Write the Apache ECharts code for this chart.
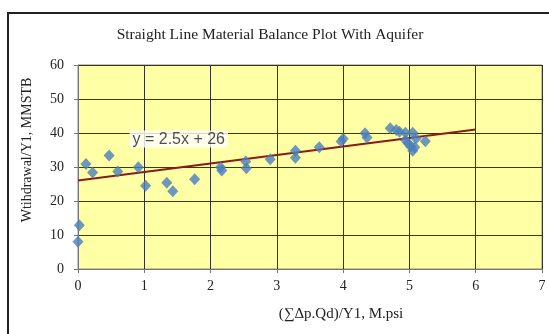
<!DOCTYPE html>
<html><head><meta charset="utf-8">
<script src="https://cdn.jsdelivr.net/npm/echarts@6/dist/echarts.min.js"></script>
<style>html,body{margin:0;padding:0;background:#fff}#c{width:549px;height:334px}</style>
</head><body><div id="c"></div>
<script>
const titleText = 'Straight Line Material Balance Plot With Aquifer';
const xName = '(\u2211\u0394p.Qd)/Y1, M.psi';
const yName = 'Wtihdrawal/Y1, MMSTB';
const xTicks = [0,1,2,3,4,5,6,7];
const yTicks = [0,10,20,30,40,50,60];
const xVals = [0.00,0.02,0.12,0.22,0.47,0.60,0.91,1.02,1.34,1.43,1.76,2.15,2.17,2.53,2.54,2.90,3.28,3.28,3.64,3.97,4.00,4.33,4.36,4.71,4.80,4.85,4.94,5.05,4.94,4.98,5.02,5.05,5.08,5.10,5.24];
const yVals = [8.0,12.9,30.9,28.4,33.4,28.7,29.9,24.5,25.4,22.9,26.4,29.9,29.0,31.6,29.6,32.3,34.8,32.7,35.8,37.5,38.3,39.9,38.7,41.4,40.9,40.4,40.1,40.1,37.9,37.0,36.0,34.8,35.8,38.4,37.6];
const trendX = [0,6];
const trendY = [26,41];
const eqLabel = 'y = 2.5x + 26';
const eqPos = [1.52, 38.2];

const chart = echarts.init(document.getElementById('c'));
const serif = 'Liberation Serif';
chart.setOption({
  animation:false,
  backgroundColor:'#fff',
  title:{text:titleText,left:265,top:22,textAlign:'center',textStyle:{fontFamily:serif,fontSize:15.5,fontWeight:'normal',color:'#222'}},
  graphic:[{type:'rect',shape:{x:8,y:13,width:600,height:400},style:{fill:null,stroke:'#222',lineWidth:2},silent:true,z:-1}],
  grid:{left:78,top:65,width:464,height:204,show:true,backgroundColor:'#ffffa6',borderColor:'#888',borderWidth:1},
  xAxis:{type:'value',min:0,max:7,interval:1,
    name:xName,nameLocation:'middle',nameGap:38,
    nameTextStyle:{fontFamily:serif,fontSize:15,color:'#222',padding:[0,0,0,62]},
    axisLine:{show:true,lineStyle:{color:'#777'}},axisTick:{show:true,length:4,lineStyle:{color:'#777'}},
    axisLabel:{fontFamily:serif,fontSize:14,color:'#222',margin:10},
    splitLine:{show:true,lineStyle:{color:'#333',width:1}}},
  yAxis:{type:'value',min:0,max:60,interval:10,
    name:yName,nameLocation:'middle',nameGap:44,
    nameTextStyle:{fontFamily:serif,fontSize:14,color:'#222',padding:[0,0,0,34]},
    axisLine:{show:true,lineStyle:{color:'#777'}},axisTick:{show:true,length:4,lineStyle:{color:'#777'}},
    axisLabel:{fontFamily:serif,fontSize:14,color:'#222',margin:14},
    splitLine:{show:true,lineStyle:{color:'#333',width:1}}},
  series:[
    {type:'line',data:trendX.map((x,i)=>[x,trendY[i]]),symbol:'none',lineStyle:{color:'#8b1a1a',width:2},z:3},
    {type:'scatter',data:xVals.map((x,i)=>[x,yVals[i]]),symbol:'diamond',symbolSize:[11,12],itemStyle:{color:'#4a7ebb'},z:4},
    {type:'scatter',data:[eqPos],symbolSize:0,z:5,
      label:{show:true,position:'inside',formatter:eqLabel,fontFamily:'Liberation Sans',fontSize:16,color:'#222',backgroundColor:'#fff',padding:[1,3,0,3]}}
  ]
});
</script></body></html>
